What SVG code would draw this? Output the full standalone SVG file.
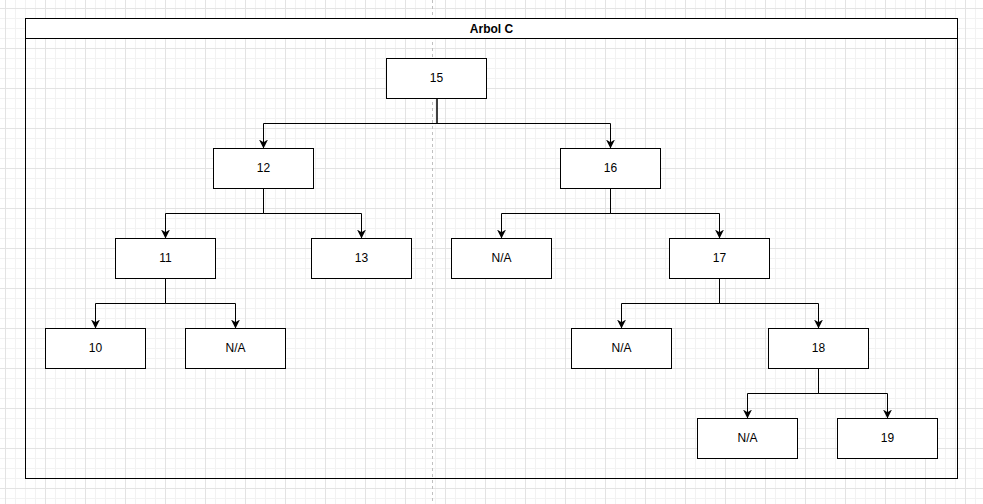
<svg xmlns="http://www.w3.org/2000/svg" width="983" height="504" viewBox="0 0 983 504">
<defs>
<pattern id="minor" x="5" y="8" width="10" height="10" patternUnits="userSpaceOnUse">
<path d="M0.5 0V10M0 0.5H10" stroke="#f2f2f2" stroke-width="1" fill="none"/>
</pattern>
<pattern id="major" x="5" y="8" width="40" height="40" patternUnits="userSpaceOnUse">
<path d="M0.5 0V40M0 0.5H40" stroke="#e3e3e3" stroke-width="1" fill="none"/>
</pattern>
<marker id="arrow" viewBox="0 0 10 10" refX="10" refY="5" markerWidth="9" markerHeight="9" markerUnits="userSpaceOnUse" orient="auto">
<path d="M0 0L10 5L0 10L3 5Z" fill="#000"/>
</marker>
</defs>
<style>
.node rect{fill:#fff;stroke:#000;stroke-width:1}
.node text{font-family:"Liberation Sans",Arial,sans-serif;font-size:12px;fill:#000;text-anchor:middle;dominant-baseline:central}
.edge{fill:none;stroke:#000;stroke-width:1;marker-end:url(#arrow)}
</style>
<rect width="983" height="504" fill="#fff"/>
<rect width="983" height="504" fill="url(#minor)"/>
<rect width="983" height="504" fill="url(#major)"/>
<line x1="432.5" y1="0" x2="432.5" y2="504" stroke="#c0c0c0" stroke-width="1" stroke-dasharray="3 3"/>
<g id="container">
<rect x="25.5" y="18.5" width="932" height="460" fill="none" stroke="#000" stroke-width="1"/>
<rect x="25.5" y="18.5" width="932" height="20" fill="#fff" stroke="#000" stroke-width="1"/>
<text x="491.5" y="28.5" font-family="'Liberation Sans',Arial,sans-serif" font-size="12" font-weight="bold" text-anchor="middle" dominant-baseline="central">Arbol C</text>
</g>
<g id="connectors">
<path class="edge" d="M437 98.5V123.5H263.5V148.5"/>
<path class="edge" d="M437 98.5V123.5H610.5V148.5"/>
<path class="edge" d="M263.5 188.5V213.5H165.5V238.5"/>
<path class="edge" d="M263.5 188.5V213.5H361.5V238.5"/>
<path class="edge" d="M610.5 188.5V213.5H501.5V238.5"/>
<path class="edge" d="M610.5 188.5V213.5H719.5V238.5"/>
<path class="edge" d="M165.5 278.5V303.5H95.5V328.5"/>
<path class="edge" d="M165.5 278.5V303.5H235.5V328.5"/>
<path class="edge" d="M719.5 278.5V303.5H621.5V328.5"/>
<path class="edge" d="M719.5 278.5V303.5H818.5V328.5"/>
<path class="edge" d="M818.5 368.5V393.5H747.5V418.5"/>
<path class="edge" d="M818.5 368.5V393.5H887.5V418.5"/>
</g>
<g id="n15" class="node"><rect x="386.5" y="58.5" width="100" height="40"/><text x="436.5" y="77.5">15</text></g>
<g id="n12" class="node"><rect x="213.5" y="148.5" width="100" height="40"/><text x="263.5" y="167.5">12</text></g>
<g id="n16" class="node"><rect x="560.5" y="148.5" width="100" height="40"/><text x="610.5" y="167.5">16</text></g>
<g id="n11" class="node"><rect x="115.5" y="238.5" width="100" height="40"/><text x="165.5" y="257.5">11</text></g>
<g id="n13" class="node"><rect x="311.5" y="238.5" width="100" height="40"/><text x="361.5" y="257.5">13</text></g>
<g id="na1" class="node"><rect x="451.5" y="238.5" width="100" height="40"/><text x="501.5" y="257.5">N/A</text></g>
<g id="n17" class="node"><rect x="669.5" y="238.5" width="100" height="40"/><text x="719.5" y="257.5">17</text></g>
<g id="n10" class="node"><rect x="45.5" y="328.5" width="100" height="40"/><text x="95.5" y="347.5">10</text></g>
<g id="na2" class="node"><rect x="185.5" y="328.5" width="100" height="40"/><text x="235.5" y="347.5">N/A</text></g>
<g id="na3" class="node"><rect x="571.5" y="328.5" width="100" height="40"/><text x="621.5" y="347.5">N/A</text></g>
<g id="n18" class="node"><rect x="768.5" y="328.5" width="100" height="40"/><text x="818.5" y="347.5">18</text></g>
<g id="na4" class="node"><rect x="697.5" y="418.5" width="100" height="40"/><text x="747.5" y="437.5">N/A</text></g>
<g id="n19" class="node"><rect x="837.5" y="418.5" width="100" height="40"/><text x="887.5" y="437.5">19</text></g>
</svg>
